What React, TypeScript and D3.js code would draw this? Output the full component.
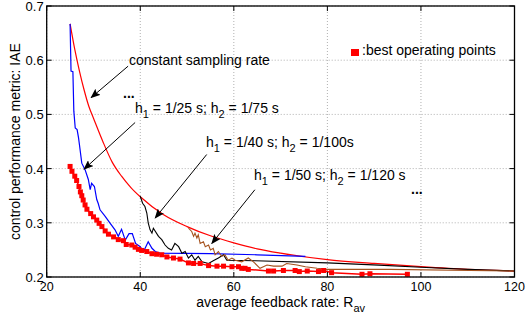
import React from "react";
import * as d3 from "d3";

// constant sampling rate curve [R_av, IAE]
const constantRate: [number, number][] = [
  [25, 0.667], [26, 0.62], [27, 0.58], [28, 0.545], [29, 0.515], [30, 0.493],
  [32, 0.45], [34, 0.412], [36, 0.386], [38, 0.365], [40, 0.348], [45, 0.315],
  [50, 0.293], [55, 0.276], [60, 0.263], [65, 0.252], [70, 0.244], [80, 0.232],
  [90, 0.225], [100, 0.219], [110, 0.214], [120, 0.211],
];

// h1 = 1/25 s; h2 = 1/75 s
const series25: [number, number][] = [
  [25, 0.667], [25.1, 0.623], [25.2, 0.58], [25.6, 0.579], [25.8, 0.506], [26.1, 0.475],
  [26.5, 0.472], [26.8, 0.457], [27.0, 0.444], [27.5, 0.41], [28.2, 0.398], [28.9, 0.38],
  [29.3, 0.361], [29.6, 0.373], [30.2, 0.367], [30.7, 0.343], [31.0, 0.336], [31.4, 0.324],
  [32.5, 0.312], [33.5, 0.3], [34.6, 0.287], [35.3, 0.275], [36.0, 0.288], [36.8, 0.268],
  [37.6, 0.28], [38.3, 0.28], [39.0, 0.262], [40.0, 0.256], [40.7, 0.247], [41.7, 0.265],
  [42.5, 0.253], [43.2, 0.247], [44.2, 0.244], [55, 0.243], [65, 0.241], [75.3, 0.238],
];

// h1 = 1/40 s; h2 = 1/100 s
const series40: [number, number][] = [
  [40, 0.349], [40.5, 0.336], [41, 0.33], [41.4, 0.318], [41.7, 0.3], [42.1, 0.287],
  [42.5, 0.281], [42.8, 0.29], [43.9, 0.275], [44.6, 0.269], [45.3, 0.259], [46.0, 0.253],
  [46.7, 0.25], [47.4, 0.262], [48.2, 0.256], [48.9, 0.244], [49.6, 0.247], [50.3, 0.235],
  [51.0, 0.241], [51.7, 0.231], [52.4, 0.238], [53.2, 0.228], [54.6, 0.225], [55.6, 0.23],
  [56.7, 0.235], [57.8, 0.241], [58.5, 0.231], [64.6, 0.23], [80, 0.226], [91, 0.222],
  [100, 0.218], [110, 0.214], [120, 0.211],
];

// h1 = 1/50 s; h2 = 1/120 s
const series50: [number, number][] = [
  [50.3, 0.29], [51, 0.284], [51.4, 0.275], [51.7, 0.281], [52.1, 0.272], [52.4, 0.278],
  [52.8, 0.262], [53.5, 0.265], [53.9, 0.256], [54.6, 0.259], [55, 0.25], [55.6, 0.253],
  [56, 0.241], [56.7, 0.247], [57.4, 0.238], [58.1, 0.241], [58.8, 0.231], [59.6, 0.235],
  [60.3, 0.231], [61.7, 0.228], [63.1, 0.235], [64.2, 0.228], [65.6, 0.216], [67.1, 0.222],
  [68.5, 0.22], [70.3, 0.22], [71.3, 0.225], [73.5, 0.222], [75.3, 0.219], [77.8, 0.216],
  [79.9, 0.214], [93.4, 0.214], [120, 0.211],
];

// best operating points
const bestPoints: [number, number][] = [
  [25.0, 0.404], [25.4, 0.395], [26.0, 0.386], [26.4, 0.378], [26.9, 0.367], [27.2, 0.357],
  [27.5, 0.35], [27.8, 0.342], [28.2, 0.333], [28.6, 0.325], [29.4, 0.317], [30.0, 0.311],
  [30.7, 0.305], [31.2, 0.299], [31.8, 0.293], [32.5, 0.285], [33.2, 0.279], [34.3, 0.274],
  [35.3, 0.269], [36.4, 0.267], [37.0, 0.26], [38.2, 0.259], [38.9, 0.255], [39.6, 0.251],
  [40.3, 0.249], [41.4, 0.247], [42.5, 0.243], [43.5, 0.242], [44.6, 0.241], [45.7, 0.237],
  [47.1, 0.235], [48.5, 0.233], [50.3, 0.226], [51.4, 0.225], [52.8, 0.225], [54.6, 0.221],
  [56.4, 0.22], [57.8, 0.22], [59.6, 0.219], [61.0, 0.219], [61.7, 0.216], [62.4, 0.216],
  [63.1, 0.214], [67.4, 0.211], [68.5, 0.211], [70.6, 0.212], [73.1, 0.212], [74.0, 0.21],
  [75.7, 0.211], [78.1, 0.21], [79.2, 0.212], [80.9, 0.208], [87.4, 0.205], [89.1, 0.206],
  [97.1, 0.205],
];

const xTicks = [20, 40, 60, 80, 100, 120];
const yTicks = [0.2, 0.3, 0.4, 0.5, 0.6, 0.7];

// arrows: [from, to] in data units
const arrows: [[number, number], [number, number]][] = [
  [[37.4, 0.589], [29.5, 0.531]],
  [[38.9, 0.485], [28.0, 0.399]],
  [[54.2, 0.426], [43.2, 0.309]],
  [[64.5, 0.361], [55.3, 0.262]],
];

const W = 526;
const H = 323;
const font = "'Liberation Sans', Arial, Helvetica, sans-serif";

export default function App() {
  const x = d3.scaleLinear().domain([20, 120]).range([46.7, 514.5]);
  const y = d3.scaleLinear().domain([0.2, 0.7]).range([277, 6]);
  const smooth = d3
    .line<[number, number]>()
    .x((d) => x(d[0]))
    .y((d) => y(d[1]))
    .curve(d3.curveMonotoneX);
  const straight = d3
    .line<[number, number]>()
    .x((d) => x(d[0]))
    .y((d) => y(d[1]));

  const [x0, x1] = x.range();
  const [y0, y1] = y.range();

  const sub = (s: string) => (
    <tspan fontSize={11} dy={5}>{s}</tspan>
  );

  return (
    <svg
      width={W}
      height={H}
      style={{ position: "fixed", left: 0, top: 0, background: "#fff" }}
      fontFamily={font}
    >
      <defs>
        <marker
          id="head"
          viewBox="0 0 10 8"
          refX={9}
          refY={4}
          markerWidth={10}
          markerHeight={8}
          markerUnits="userSpaceOnUse"
          orient="auto"
        >
          <path d="M0,0 L10,4 L0,8 L2,4 Z" fill="#000" />
        </marker>
      </defs>
      <rect x={0} y={0} width={W} height={H} fill="#fff" />

      {/* grid */}
      {xTicks.map((t) => (
        <line key={"gx" + t} x1={x(t)} x2={x(t)} y1={y1} y2={y0}
          stroke="#b0b0b0" strokeWidth={1} strokeDasharray="1,2" />
      ))}
      {yTicks.map((t) => (
        <line key={"gy" + t} x1={x0} x2={x1} y1={y(t)} y2={y(t)}
          stroke="#b0b0b0" strokeWidth={1} strokeDasharray="1,2" />
      ))}

      {/* curves */}
      <path d={smooth(constantRate) ?? ""} fill="none" stroke="#ff0000" strokeWidth={1.2} />
      <path d={straight(series25) ?? ""} fill="none" stroke="#0000ff" strokeWidth={1.2} />
      <path d={straight(series40) ?? ""} fill="none" stroke="#000" strokeWidth={1.1} />
      <path d={straight(series50) ?? ""} fill="none" stroke="#a5521e" strokeWidth={1.1} />
      <path d={straight(bestPoints) ?? ""} fill="none" stroke="#ff0000" strokeWidth={1.5} />
      {bestPoints.map((d, i) => (
        <rect key={i} x={x(d[0]) - 2.5} y={y(d[1]) - 2.5} width={5} height={5} fill="#ff0000" />
      ))}

      {/* frame */}
      <rect x={x0} y={y1} width={x1 - x0} height={y0 - y1} fill="none" stroke="#000" strokeWidth={1.3} />
      {xTicks.map((t) => (
        <g key={"tx" + t}>
          <line x1={x(t)} x2={x(t)} y1={y0} y2={y0 - 5} stroke="#000" />
          <line x1={x(t)} x2={x(t)} y1={y1} y2={y1 + 5} stroke="#000" />
          <text x={x(t)} y={291} textAnchor="middle" fontSize={12.5}>{t}</text>
        </g>
      ))}
      {yTicks.map((t) => (
        <g key={"ty" + t}>
          <line x1={x0} x2={x0 + 5} y1={y(t)} y2={y(t)} stroke="#000" />
          <line x1={x1} x2={x1 - 5} y1={y(t)} y2={y(t)} stroke="#000" />
          <text x={x0 - 3} y={y(t) + 5} textAnchor="end" fontSize={13}>{t.toFixed(1)}</text>
        </g>
      ))}

      {/* axis labels */}
      <text x={(x0 + x1) / 2} y={307} textAnchor="middle" fontSize={14}>
        average feedback rate: R{sub("av")}
      </text>
      <text transform={`translate(20,${(y0 + y1) / 2}) rotate(-90)`} textAnchor="middle" fontSize={14}>
        control performance metric: IAE
      </text>

      {/* annotations */}
      {arrows.map(([a, b], i) => (
        <line key={"ar" + i} x1={x(a[0])} y1={y(a[1])} x2={x(b[0])} y2={y(b[1])}
          stroke="#000" strokeWidth={1} markerEnd="url(#head)" />
      ))}
      <g fontSize={14}>
        <text x={129} y={64.5}>constant sampling rate</text>
        <text x={123} y={98} fontWeight="bold">...</text>
        <text x={135} y={113}>
          h{sub("1")}<tspan dy={-5}> = 1/25 s; h</tspan>{sub("2")}<tspan dy={-5}> = 1/75 s</tspan>
        </text>
        <text x={206} y={147}>
          h{sub("1")}<tspan dy={-5}> = 1/40 s; h</tspan>{sub("2")}<tspan dy={-5}> = 1/100s</tspan>
        </text>
        <text x={254} y={180}>
          h{sub("1")}<tspan dy={-5}> = 1/50 s; h</tspan>{sub("2")}<tspan dy={-5}> = 1/120 s</tspan>
        </text>
        <text x={411} y={194} fontWeight="bold">...</text>
        <rect x={351} y={49} width={8} height={7} fill="#ff0000" />
        <text x={362} y={55}>:best operating points</text>
      </g>
    </svg>
  );
}
